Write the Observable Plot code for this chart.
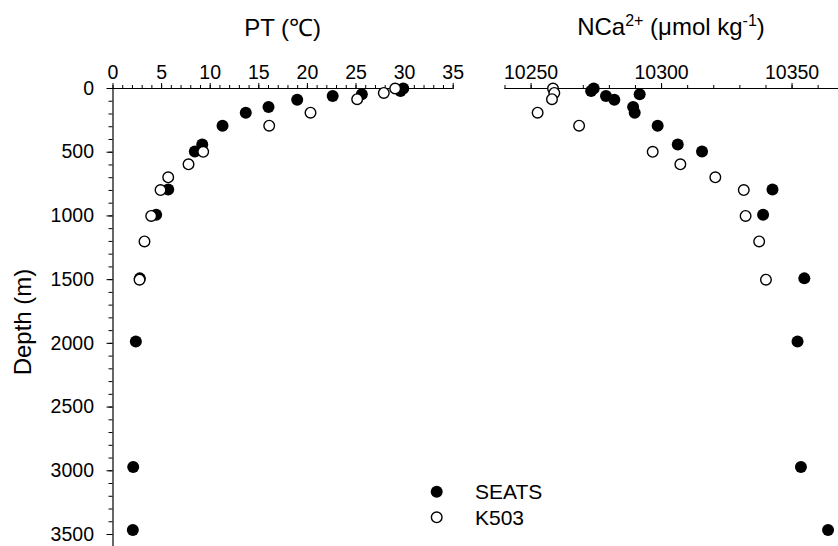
<!DOCTYPE html>
<html><head><meta charset="utf-8">
<script src="https://cdn.jsdelivr.net/npm/d3@7"></script>
<script src="https://cdn.jsdelivr.net/npm/@observablehq/plot@0.6"></script>
<style>
html,body{margin:0;padding:0;background:#fff;}
#chart{position:relative;width:838px;height:546px;overflow:hidden;background:#fff;}
#chart svg{position:absolute;top:0;}
</style></head><body><div id="chart"></div>
<script>
// ---- data ----
const seatsDepth = [0, 20, 45, 58, 88, 145, 190, 292, 440, 495, 792, 990, 1490, 1985, 2970, 3465];
const seatsPT    = [29.86, 29.58, 25.6, 22.6, 18.95, 16.0, 13.66, 11.27, 9.18, 8.42, 5.68, 4.44, 2.76, 2.35, 2.08, 2.04];
const seatsNCa   = [10274.0, 10273.0, 10291.6, 10278.7, 10281.9, 10289.1, 10289.7, 10298.5, 10306.2, 10315.5, 10342.5, 10338.9, 10354.7, 10352.1, 10353.4, 10363.8];

const k503Depth = [0, 35, 84, 190, 292, 497, 595, 697, 797, 1000, 1200, 1500];
const k503PT    = [29.03, 27.86, 25.12, 20.32, 16.07, 9.28, 7.77, 5.68, 4.89, 3.93, 3.24, 2.73];
const k503NCa   = [10258.4, 10258.9, 10258.0, 10252.5, 10268.4, 10296.6, 10307.2, 10320.6, 10331.5, 10332.2, 10337.4, 10340.0];

const ptTicks = [0, 5, 10, 15, 20, 25, 30, 35];
const ptMinor = d3.range(0, 36, 1);
const ncaTicks = [10250, 10300, 10350];
const ncaMinor = d3.range(10240, 10361, 10);
const depthTicks = [0, 500, 1000, 1500, 2000, 2500, 3000, 3500];
const depthMinor = d3.range(0, 3501, 100);
const seriesNames = ["SEATS", "K503"];

const seats = seatsDepth.map((d, i) => ({depth: d, pt: seatsPT[i], nca: seatsNCa[i]}));
const k503 = k503Depth.map((d, i) => ({depth: d, pt: k503PT[i], nca: k503NCa[i]}));

const FONT = "'Liberation Sans', Arial, Helvetica, sans-serif";
const TICKFS = 19.5;
const fmt = d => String(d);
const chart = document.getElementById("chart");

const left = Plot.plot({
  width: 480, height: 546,
  marginTop: 88, marginBottom: 12, marginLeft: 112.5, marginRight: 27.3,
  x: {domain: [0, 35]},
  y: {domain: [0, 3500], reverse: true},
  style: {fontFamily: FONT, fontSize: TICKFS + "px", background: "transparent", color: "black", overflow: "visible"},
  marks: [
    Plot.ruleY([0], {stroke: "black", strokeWidth: 1.2}),
    Plot.ruleX([0], {y1: 0, y2: 3600, stroke: "black", strokeWidth: 1.2}),
    Plot.axisX({anchor: "top", ticks: ptMinor, tickSize: 4, fill: "none", label: null}),
    Plot.axisX({anchor: "top", ticks: ptTicks, tickSize: 6, tickPadding: 4, tickFormat: fmt, label: null, fontSize: TICKFS}),
    Plot.axisY({anchor: "left", ticks: depthMinor, tickSize: 4, fill: "none", label: null}),
    Plot.axisY({anchor: "left", ticks: depthTicks, tickSize: 6, tickPadding: 13, tickFormat: fmt, label: null, fontSize: TICKFS}),
    Plot.dot(seats, {x: "pt", y: "depth", r: 6, fill: "black", stroke: "none"}),
    Plot.dot(k503, {x: "pt", y: "depth", r: 5.3, fill: "white", stroke: "black", strokeWidth: 1.4})
  ]
});
left.style.left = "0px";
chart.appendChild(left);

const right = Plot.plot({
  width: 358, height: 546,
  marginTop: 88, marginBottom: 12, marginLeft: 24.5, marginRight: 0,
  x: {domain: [10240, 10367.8]},
  y: {domain: [0, 3500], reverse: true, axis: null},
  style: {fontFamily: FONT, fontSize: TICKFS + "px", background: "transparent", color: "black", overflow: "visible"},
  marks: [
    Plot.ruleY([0], {stroke: "black", strokeWidth: 1.2}),
    Plot.axisX({anchor: "top", ticks: ncaMinor, tickSize: 4, fill: "none", label: null}),
    Plot.axisX({anchor: "top", ticks: ncaTicks, tickSize: 6, tickPadding: 4, tickFormat: fmt, label: null, fontSize: TICKFS}),
    Plot.dot(seats, {x: "nca", y: "depth", r: 6, fill: "black", stroke: "none"}),
    Plot.dot(k503, {x: "nca", y: "depth", r: 5.3, fill: "white", stroke: "black", strokeWidth: 1.4})
  ]
});
right.style.left = "480px";
chart.appendChild(right);

// titles
const ls = d3.select(left);
ls.append("text").attr("x", 282.6).attr("y", 36).attr("text-anchor", "middle")
  .attr("font-family", FONT).attr("font-size", 24).attr("fill", "black").text("PT (℃)");
ls.append("text").attr("transform", "translate(31,322) rotate(-90)").attr("text-anchor", "middle")
  .attr("font-family", FONT).attr("font-size", 24).attr("fill", "black").text("Depth (m)");

const rs = d3.select(right);
const t = rs.append("text").attr("x", 191).attr("y", 35).attr("text-anchor", "middle")
  .attr("font-family", FONT).attr("font-size", 24).attr("fill", "black");
t.append("tspan").text("NCa");
t.append("tspan").attr("font-size", 16).attr("dy", -9).text("2+");
t.append("tspan").attr("dy", 9).text(" (μmol kg");
t.append("tspan").attr("font-size", 16).attr("dy", -9).text("-1");
t.append("tspan").attr("dy", 9).text(")");

// legend
const leg = d3.select(chart).append("svg").attr("width", 200).attr("height", 70)
  .style("left", "400px").style("top", "470px");
const legY = [21.7, 47.3];
seriesNames.forEach((name, i) => {
  const g = leg.append("g");
  if (i === 0) g.append("circle").attr("cx", 36.7).attr("cy", legY[i]).attr("r", 6).attr("fill", "black");
  else g.append("circle").attr("cx", 36.7).attr("cy", legY[i]).attr("r", 5.3).attr("fill", "white").attr("stroke", "black").attr("stroke-width", 1.4);
  g.append("text").attr("x", 75).attr("y", legY[i] + 7.2).attr("font-family", FONT).attr("font-size", 21).attr("fill", "black").text(name);
});
</script></body></html>
